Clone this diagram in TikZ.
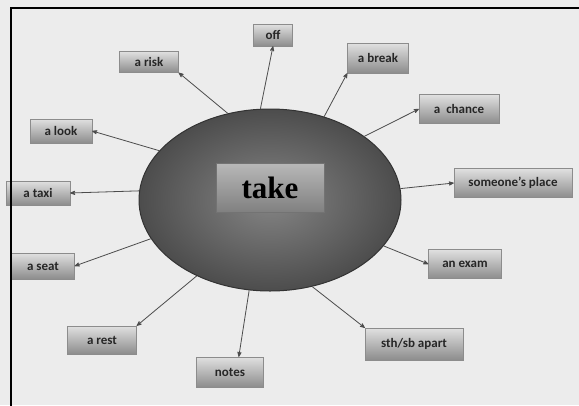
\documentclass[tikz,border=0pt]{standalone}
\usepackage{fontspec}
\setmainfont{Carlito}
\newfontfamily\takefont{Liberation Serif}
\usepackage{tikz}
\usetikzlibrary{shapes}
\usetikzlibrary{arrows}
\definecolor{paper}{RGB}{236,236,236}

\begin{document}
\begin{tikzpicture}[x=1pt,y=-1pt]
		\tikzstyle{every node}+=[inner sep=0pt]
		\tikzstyle{word}=[rectangle, draw=black!45, top color=black!12, bottom color=black!45, text=black!85, font=\bfseries\fontsize{13}{13}\selectfont]
		\tikzstyle{link}=[draw=black!70, line width=0.8pt, ->, >=stealth']
		\useasboundingbox (0,0) rectangle (579,405);
		\fill [paper] (0,0) rectangle (579,405);
		\node [ellipse, draw=black!80, line width=1pt, inner color=black!48, outer color=black!70, minimum width=262pt, minimum height=182pt] (hub) at (270,200) {};
		\node [word, draw=black!55, top color=black!28, bottom color=black!50, minimum width=108pt, minimum height=49pt, text=black, font=\takefont\bfseries\fontsize{31}{31}\selectfont] (take) at (270,188) {take};
		\node [word, minimum width=59pt, minimum height=21pt] (risk) at (149,62) {a risk};
		\node [word, minimum width=39pt, minimum height=22pt] (off) at (273,35) {off};
		\node [word, minimum width=62pt, minimum height=24pt] (look) at (61,131) {a look};
		\node [word, minimum width=64pt, minimum height=24pt] (taxi) at (38,193) {a taxi};
		\node [word, minimum width=63pt, minimum height=26pt] (seat) at (43,266) {a seat};
		\node [word, minimum width=69pt, minimum height=28pt] (rest) at (102,340) {a rest};
		\node [word, minimum width=67pt, minimum height=30pt] (notes) at (230,372) {notes};
		\node [word, minimum width=98pt, minimum height=32pt] (apart) at (414,344) {sth/sb apart};
		\node [word, minimum width=73pt, minimum height=29pt] (exam) at (465,264) {an exam};
		\node [word, minimum width=118pt, minimum height=29pt] (place) at (513,183) {someone's place};
		\node [word, minimum width=80pt, minimum height=29pt] (chance) at (459,109) {a\ \ chance};
		\node [word, minimum width=61pt, minimum height=30pt] (break) at (378,58) {a break};
		\draw [link] (hub.116) -- (risk.south east);
		\draw [link] (hub.96) -- (off.south);
		\draw [link] (hub.156) -- (look.east);
		\draw [link] (hub.176.5) -- (taxi.east);
		\draw [link] (hub.-162) -- (seat.east);
		\draw [link] (hub.-134) -- (rest.north east);
		\draw [link] (hub.-103.4) -- (notes.60);
		\draw [link] (hub.-64.5) -- (apart.north west);
		\draw [link] (hub.-22.8) -- (exam.west);
		\draw [link] (hub.5.3) -- (place.west);
		\draw [link] (hub.34.4) -- (chance.west);
		\draw [link] (hub.57) -- (break.south west);
		\draw [black, line width=2.5pt] (11,410) -- (11,8) -- (585,8);
	\end{tikzpicture}
\end{document}
